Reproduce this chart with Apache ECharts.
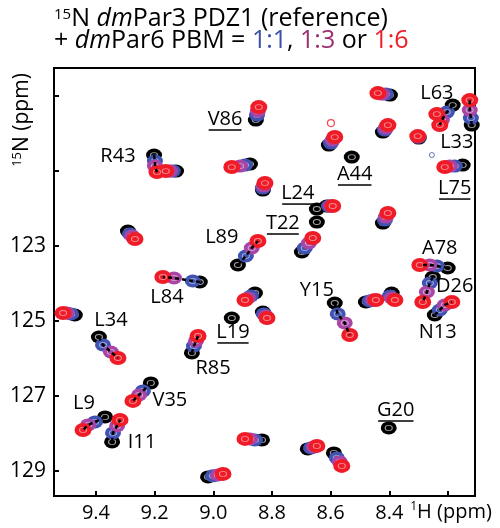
<!DOCTYPE html>
<html>
<head>
<meta charset="utf-8">
<script src="https://cdn.jsdelivr.net/npm/echarts@6/dist/echarts.min.js"></script>
<style>
html, body { margin: 0; padding: 0; background: #fff; }
#hsqc { width: 500px; height: 528px; }
</style>
</head>
<body>
<div id="hsqc"></div>
<script>
// peak centres [1H ppm, 15N ppm], same order in the four lists
var peaksRef = [
  [9.202,120.573],[9.127,121.0],[9.291,122.6],[9.046,123.96],[9.472,124.84],
  [9.390,125.427],[9.213,126.653],[9.369,127.56],[9.345,128.227],[9.073,125.853],
  [8.858,124.253],[8.831,124.76],[8.916,123.507],[8.586,124.52],[8.392,124.253],
  [8.480,124.493],[8.201,123.587],[8.252,123.827],[8.245,124.84],[9.018,129.16],
  [8.834,128.173],[8.678,128.413],[8.589,128.52],[8.855,119.64],[8.875,120.813],
  [8.831,121.507],[8.613,121.933],[8.698,123.16],[8.606,120.307],[8.398,118.973],
  [8.422,119.96],[8.300,120.12],[8.184,119.24],[8.119,119.773],[8.150,120.84],
  [8.422,122.387]
];
var peaks11 = [
  [9.199,120.733],[9.138,121.0],[9.284,122.68],[9.070,123.933],[9.485,124.813],
  [9.376,125.64],[9.240,126.867],[9.403,127.693],[9.342,127.987],[9.066,125.667],
  [8.872,124.333],[8.828,124.813],[8.889,123.267],[8.576,124.813],[8.398,124.333],
  [8.467,124.467],[8.238,123.533],[8.262,123.987],[8.228,124.707],[9.001,129.133],
  [8.858,128.173],[8.667,128.387],[8.579,128.653],[8.851,119.507],[8.892,120.84],
  [8.831,121.453],[8.606,121.933],[8.688,123.053],[8.599,120.253],[8.412,118.947],
  [8.415,119.907],[8.300,120.093],[8.204,119.427],[8.122,119.587],[8.177,120.867],
  [8.415,122.307]
];
var peaks13 = [
  [9.199,120.867],[9.148,121.0],[9.277,122.733],[9.134,123.853],[9.499,124.787],
  [9.349,125.827],[9.253,126.973],[9.427,127.773],[9.328,127.8],[9.059,125.533],
  [8.882,124.387],[8.821,124.867],[8.869,123.053],[8.552,125.053],[8.392,124.387],
  [8.456,124.44],[8.262,123.507],[8.272,124.227],[8.211,124.573],[8.984,129.107],
  [8.875,128.147],[8.657,128.36],[8.569,128.76],[8.848,119.4],[8.909,120.867],
  [8.828,121.4],[8.599,121.933],[8.674,122.92],[8.593,120.173],[8.426,118.947],
  [8.412,119.853],[8.303,120.093],[8.221,119.64],[8.126,119.373],[8.194,120.867],
  [8.412,122.227]
];
var peaks16 = [
  [9.192,121.027],[9.162,121.0],[9.267,122.813],[9.172,123.827],[9.512,124.787],
  [9.325,125.987],[9.274,127.133],[9.444,127.907],[9.318,127.64],[9.052,125.4],
  [8.892,124.44],[8.817,124.92],[8.848,122.867],[8.535,125.373],[8.381,124.44],
  [8.446,124.44],[8.296,123.507],[8.286,124.493],[8.187,124.493],[8.967,129.08],
  [8.892,128.147],[8.647,128.333],[8.562,128.867],[8.845,119.293],[8.937,120.893],
  [8.824,121.32],[8.593,121.933],[8.661,122.787],[8.586,120.093],[8.439,118.92],
  [8.405,119.773],[8.303,120.067],[8.228,119.773],[8.126,119.107],[8.211,120.893],
  [8.405,122.12]
];
// peaks seen only in the reference spectrum (L19, G20, A44, L24)
var refOnly = [[8.937,124.92],[8.402,127.853],[8.528,120.627],[8.647,122.013],[8.647,122.36]];
var extra16 = [[8.238,119.48]];
var weak16 = [[8.599,119.72]];
var weak11 = [[8.255,120.573]];
// peaks whose titration path is drawn as a dashed line
var tracked = [0, 3, 5, 6, 7, 8, 9, 12, 13, 16, 17, 18, 32, 33];

var residueLabels = ['R43','V86','L24','T22','L89','A44','L63','L33','L75','A78','D26',
  'N13','L84','Y15','L19','R85','L34','V35','L9','I11','G20'];
var labelAt = [[9.325,120.6],[8.960,119.613],[8.712,121.587],[8.763,122.387],[8.971,122.76],
  [8.518,121.08],[8.238,118.92],[8.170,120.227],[8.177,121.453],[8.228,123.053],[8.177,124.067],
  [8.235,125.293],[9.158,124.36],[8.647,124.173],[8.933,125.293],[9.001,126.253],[9.349,124.973],
  [9.148,127.107],[9.441,127.187],[9.243,128.227],[8.378,127.373]];
var underlined = ['V86','L24','T22','A44','L75','L19','G20'];

var xTicks = [9.4, 9.2, 9.0, 8.8, 8.6, 8.4, 8.2];
var xTickLabels = [9.4, 9.2, 9.0, 8.8, 8.6, 8.4];
var yTicks = [119, 121, 123, 125, 127, 129];
var yTickLabels = [123, 125, 127, 129];

var FONT = '"Open Sans", "DejaVu Sans", sans-serif';
var cRef = '#000000', c11 = '#4053b2', c13 = '#a845a5', c16 = '#ef1c27';

function peakSeries(data, color, size) {
  return {
    type: 'scatter',
    data: data,
    symbol: 'circle',
    symbolSize: size,
    itemStyle: { color: color, opacity: 1 },
    emphasis: { disabled: true },
    silent: true
  };
}
function ringSeries(data, color, size, width) {
  return {
    type: 'scatter',
    data: data,
    symbol: 'circle',
    symbolSize: size,
    itemStyle: { color: 'none', borderColor: color, borderWidth: width },
    emphasis: { disabled: true },
    silent: true
  };
}

var paths = tracked.map(function (i) {
  return { coords: [peaksRef[i], peaks11[i], peaks13[i], peaks16[i]] };
});

var chart = echarts.init(document.getElementById('hsqc'));
chart.setOption({
  animation: false,
  textStyle: { fontFamily: FONT },
  grid: { left: 54, right: 25, top: 68, bottom: 32, show: true, borderColor: '#000', borderWidth: 2 },
  xAxis: {
    type: 'value', min: 8.108, max: 9.543, inverse: true,
    axisLine: { show: true, lineStyle: { color: '#000', width: 2 } },
    axisTick: { show: true, inside: true, length: 5, customValues: xTicks, lineStyle: { color: '#000', width: 2 } },
    axisLabel: { customValues: xTickLabels, formatter: function (v) { return v.toFixed(1); },
      color: '#000', fontSize: 20, margin: 7, fontFamily: FONT },
    splitLine: { show: false }
  },
  yAxis: {
    type: 'value', min: 118.25, max: 129.67, inverse: true,
    axisLine: { show: true, lineStyle: { color: '#000', width: 2 } },
    axisTick: { show: true, inside: true, length: 5, customValues: yTicks, lineStyle: { color: '#000', width: 2 } },
    axisLabel: { customValues: yTickLabels, color: '#000', fontSize: 21, margin: 8, fontFamily: FONT },
    splitLine: { show: false }
  },
  series: [
    peakSeries(peaksRef.concat(refOnly), cRef, [16, 13]),
    ringSeries(peaksRef.concat(refOnly), 'rgba(255,255,255,0.8)', [7, 5], 1),
    peakSeries(peaks11, c11, [16, 13]),
    ringSeries(peaks11, 'rgba(255,255,255,0.6)', [7, 5], 1),
    peakSeries(peaks13, c13, [16, 13]),
    ringSeries(peaks13, 'rgba(255,255,255,0.6)', [7, 5], 1),
    peakSeries(peaks16.concat(extra16), c16, [17, 14]),
    ringSeries(peaks16.concat(extra16), 'rgba(255,255,255,0.6)', [7, 5], 1),
    ringSeries(weak16, c16, [7, 7], 1.2),
    ringSeries(weak11, c11, [5, 5], 1),
    {
      type: 'lines',
      coordinateSystem: 'cartesian2d',
      polyline: true,
      data: paths,
      lineStyle: { color: '#000', width: 2.5, type: [4, 3], opacity: 1 },
      silent: true,
      z: 5
    }
  ]
});

// residue names, placed in ppm and underlined where the reference underlines them
var measure = document.createElement('canvas').getContext('2d');
measure.font = '20px ' + FONT;
var graphics = [];
residueLabels.forEach(function (name, i) {
  var p = chart.convertToPixel({ gridIndex: 0 }, labelAt[i]);
  graphics.push({
    type: 'text', x: p[0], y: p[1], z: 10,
    style: { text: name, font: '20px ' + FONT, fill: '#000', align: 'center', verticalAlign: 'middle' }
  });
  if (underlined.indexOf(name) >= 0) {
    var w = measure.measureText(name).width - 2;
    graphics.push({
      type: 'line', z: 10,
      shape: { x1: p[0] - w / 2, y1: p[1] + 11, x2: p[0] + w / 2, y2: p[1] + 11 },
      style: { stroke: '#000', lineWidth: 1.5 }
    });
  }
});

// title lines and axis names
graphics.push({
  type: 'text', left: 54, top: 6,
  style: {
    text: '{s|15}{n|N }{i|dm}{n|Par3 PDZ1 (reference)}\n{n|+ }{i|dm}{n|Par6 PBM = }{b|1:1}{n|, }{p|1:3}{n| or }{r|1:6}',
    rich: {
      n: { fontSize: 25, lineHeight: 22, fontFamily: FONT, fill: '#000' },
      i: { fontSize: 25, lineHeight: 22, fontFamily: FONT, fontStyle: 'italic', fill: '#000' },
      s: { fontSize: 15, lineHeight: 12, fontFamily: FONT, verticalAlign: 'top', fill: '#000' },
      b: { fontSize: 25, lineHeight: 22, fontFamily: FONT, fill: '#3b4ea8' },
      p: { fontSize: 25, lineHeight: 22, fontFamily: FONT, fill: '#9c2f72' },
      r: { fontSize: 25, lineHeight: 22, fontFamily: FONT, fill: '#ee1c27' }
    }
  }
});
graphics.push({
  type: 'text', x: 22, y: 120, rotation: Math.PI / 2,
  style: {
    text: '{s|15}{n|N (ppm)}', align: 'center', verticalAlign: 'middle',
    rich: {
      n: { fontSize: 21, lineHeight: 22, fontFamily: FONT, fill: '#000' },
      s: { fontSize: 13, lineHeight: 12, fontFamily: FONT, verticalAlign: 'top', fill: '#000' }
    }
  }
});
graphics.push({
  type: 'text', x: 451, y: 512,
  style: {
    text: '{s|1}{n|H (ppm)}', align: 'center', verticalAlign: 'middle',
    rich: {
      n: { fontSize: 20, lineHeight: 22, fontFamily: FONT, fill: '#000' },
      s: { fontSize: 12, lineHeight: 12, fontFamily: FONT, verticalAlign: 'top', fill: '#000' }
    }
  }
});
chart.setOption({ graphic: graphics });
</script>
</body>
</html>
